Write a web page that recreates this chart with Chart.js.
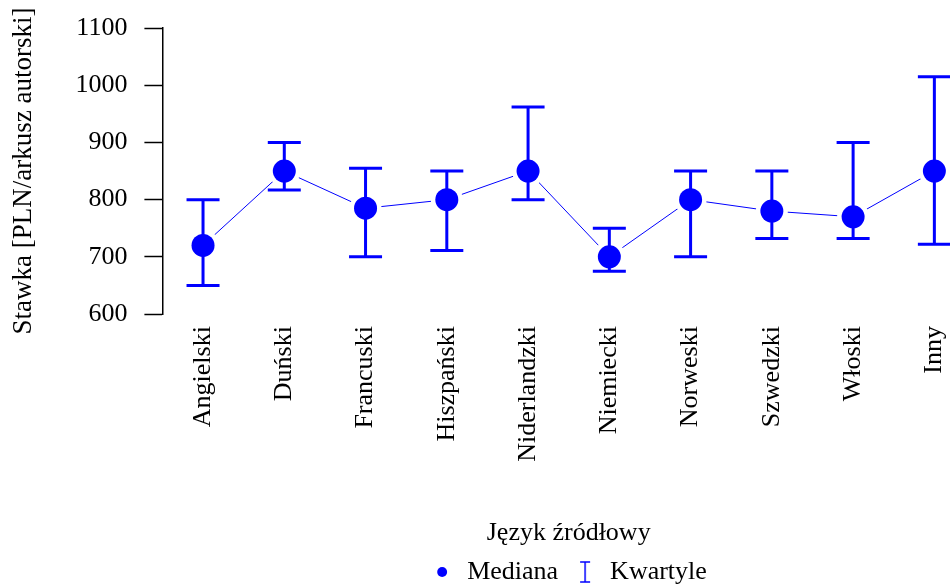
<!DOCTYPE html>
<html>
<head>
<meta charset="utf-8">
<script src="https://cdn.jsdelivr.net/npm/chart.js@4"></script>
<style>
  html, body { margin: 0; padding: 0; background: #fff; overflow: hidden; }
  #wrap { width: 950px; height: 585px; overflow: hidden; }
</style>
</head>
<body>
<div id="wrap"><canvas id="rateChart" width="1137" height="595"></canvas></div>
<script>
Chart.defaults.animation = false;

// --- Data ---
const languages = ['Angielski', 'Duński', 'Francuski', 'Hiszpański', 'Niderlandzki',
                   'Niemiecki', 'Norweski', 'Szwedzki', 'Włoski', 'Inny'];
const medians = [720, 850, 785, 800, 850, 700, 800, 780, 770, 850];
const lowerQuartiles = [650, 817, 700, 711, 800, 675, 700, 732, 732, 722];
const upperQuartiles = [800, 900, 855, 850, 962, 750, 850, 850, 900, 1015];
const yTicks = [600, 700, 800, 900, 1000, 1100];

const BLUE = '#0000ff';
const FONT = "'Liberation Serif', 'Times New Roman', serif";

// --- Legend icon for the quartile bars ---
const quartileIcon = document.createElement('canvas');
quartileIcon.width = 16;
quartileIcon.height = 22;
(function () {
  const c = quartileIcon.getContext('2d');
  c.strokeStyle = BLUE;
  c.lineWidth = 1.5;
  c.beginPath();
  c.moveTo(8, 1); c.lineTo(8, 21);
  c.moveTo(3, 1); c.lineTo(13, 1);
  c.moveTo(3, 21); c.lineTo(13, 21);
  c.stroke();
})();

// Quartile whiskers, drawn above the white halos and below the median dots
const errorBars = {
  id: 'errorBars',
  afterDatasetDraw(chart, args) {
    if (args.index !== 1) return;
    const { ctx, scales: { x, y } } = chart;
    const cap = 16.5;
    ctx.save();
    ctx.strokeStyle = BLUE;
    ctx.lineWidth = 3;
    languages.forEach((lang, i) => {
      const px = x.getPixelForValue(i);
      const top = y.getPixelForValue(upperQuartiles[i]);
      const bottom = y.getPixelForValue(lowerQuartiles[i]);
      ctx.beginPath();
      ctx.moveTo(px, top); ctx.lineTo(px, bottom);
      ctx.moveTo(px - cap, top); ctx.lineTo(px + cap, top);
      ctx.moveTo(px - cap, bottom); ctx.lineTo(px + cap, bottom);
      ctx.stroke();
    });
    ctx.restore();
  }
};

new Chart(document.getElementById('rateChart'), {
  type: 'line',
  data: {
    labels: languages,
    datasets: [
      {
        label: 'Mediana',
        data: medians,
        showLine: false,
        pointRadius: 11.5,
        pointBackgroundColor: BLUE,
        pointBorderWidth: 0,
        order: 0
      },
      {
        label: 'halo',
        data: medians,
        showLine: false,
        pointRadius: 16,
        pointBackgroundColor: '#fff',
        pointBorderWidth: 0,
        order: 1
      },
      {
        label: 'linia',
        data: medians,
        borderColor: BLUE,
        borderWidth: 1,
        pointRadius: 0,
        order: 2
      }
    ]
  },
  options: {
    responsive: false,
    layout: { padding: { top: 28, left: 0, right: 0, bottom: 0 } },
    plugins: {
      tooltip: { enabled: false },
      legend: {
        position: 'bottom',
        labels: {
          usePointStyle: true,
          boxHeight: 7,
          boxWidth: 24,
          padding: 15,
          color: '#000',
          font: { family: FONT, size: 26 },
          generateLabels: () => [
            { text: 'Mediana', pointStyle: 'circle', fillStyle: BLUE, strokeStyle: BLUE,
              lineWidth: 0, hidden: false, datasetIndex: 0, fontColor: '#000' },
            { text: 'Kwartyle', pointStyle: quartileIcon, fillStyle: BLUE, strokeStyle: BLUE,
              lineWidth: 0, hidden: false, datasetIndex: 1, fontColor: '#000' }
          ]
        }
      }
    },
    scales: {
      x: {
        offset: true,
        grid: { display: false, drawTicks: false },
        border: { display: false },
        ticks: {
          autoSkip: false,
          minRotation: 90,
          maxRotation: 90,
          padding: 12,
          color: '#000',
          font: { family: FONT, size: 26 }
        },
        title: {
          display: true,
          text: 'Język źródłowy',
          color: '#000',
          font: { family: FONT, size: 26 },
          padding: { top: 44, bottom: -5 }
        }
      },
      y: {
        min: 600,
        max: 1100,
        afterBuildTicks: scale => { scale.ticks = yTicks.map(v => ({ value: v })); },
        grid: {
          drawOnChartArea: false,
          drawTicks: true,
          tickLength: 18,
          tickColor: '#000',
          tickWidth: 1.5
        },
        border: { display: true, color: '#000', width: 1.5 },
        ticks: {
          padding: 17,
          color: '#000',
          font: { family: FONT, size: 26, lineHeight: 0.8 },
          callback: v => String(v)
        },
        title: {
          display: true,
          text: 'Stawka [PLN/arkusz autorski]',
          color: '#000',
          font: { family: FONT, size: 27 },
          padding: { top: 8, bottom: 18 }
        }
      },
      // empty margin on the right, the plot runs past the page edge
      margin: {
        position: 'right',
        grid: { display: false, drawTicks: false },
        border: { display: false },
        ticks: { display: false },
        afterFit: scale => { scale.width = 162; }
      }
    }
  },
  plugins: [errorBars]
});
</script>
</body>
</html>
